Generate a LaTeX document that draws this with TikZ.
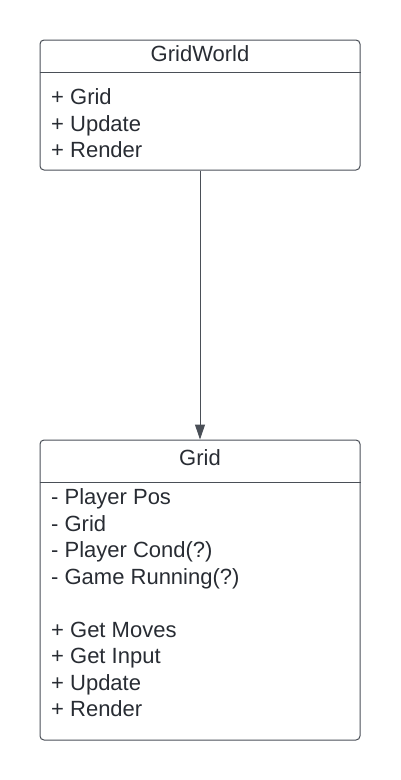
\documentclass[tikz,border=0pt]{standalone}
\usepackage{fontspec}
\setmainfont{Liberation Sans}
\usetikzlibrary{arrows.meta}
\definecolor{umlline}{HTML}{4A4F57}
\definecolor{umltext}{HTML}{282C33}
\tikzset{
  classbox/.style={draw=umlline, line width=1pt, rounded corners=4pt, minimum width=320pt, inner sep=0pt},
  classname/.style={text=umltext, font=\fontsize{22}{26}\selectfont, anchor=base, inner sep=0pt},
  member/.style={text=umltext, font=\fontsize{22}{26}\selectfont, anchor=base west, inner sep=0pt},
  split/.style={draw=umlline, line width=1pt},
  assoc/.style={draw=umlline, line width=1pt, -{Triangle[width=10pt,length=15pt]}}
}
\begin{document}
\begin{tikzpicture}[x=1pt,y=-1pt]
\useasboundingbox (0,0) rectangle (400,780);
% GridWorld class
\node[classbox, minimum height=130pt] (gw) at (200,105) {};
\node[classname] (gw-name) at (200,61) {GridWorld};
\coordinate (gw-split) at (200,72);
\draw[split] (gw.west |- gw-split) -- (gw.east |- gw-split);
\foreach \txt [count=\i] in {+ Grid, + Update, + Render}
  \node[member] (gw-\i) at (51,78+26.6*\i) {\txt};
% Grid class
\node[classbox, minimum height=300pt] (grid) at (200,590) {};
\node[classname] (grid-name) at (200,465) {Grid};
\coordinate (grid-split) at (200,482);
\draw[split] (grid.west |- grid-split) -- (grid.east |- grid-split);
\foreach \txt [count=\i] in {- Player Pos, - Grid, - Player Cond(?), - Game Running(?)}
  \node[member] (grid-f\i) at (51,477.8+26.6*\i) {\txt};
\foreach \txt [count=\i] in {+ Get Moves, + Get Input, + Update, + Render}
  \node[member] (grid-m\i) at (51,610.4+26.6*\i) {\txt};
% association
\draw[assoc] (gw) -- (grid);
\end{tikzpicture}
\end{document}
